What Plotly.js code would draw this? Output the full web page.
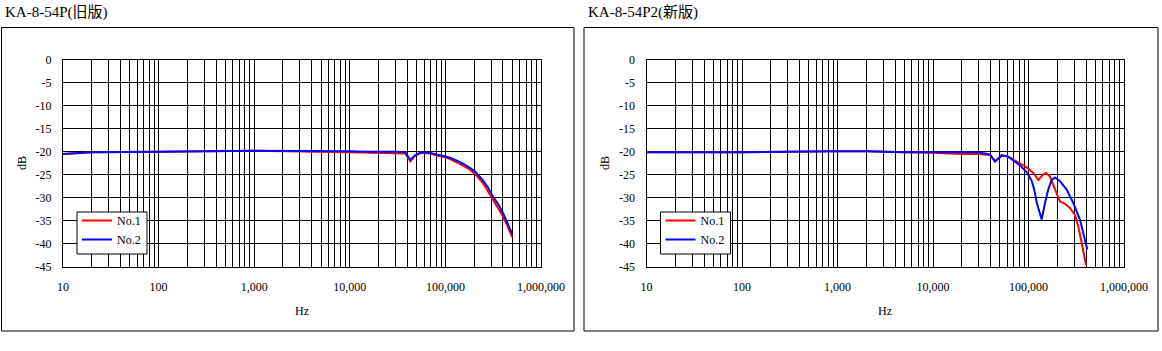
<!DOCTYPE html>
<html>
<head>
<meta charset="utf-8">
<script src="https://cdn.plot.ly/plotly-3.0.1.min.js"></script>
<style>html,body{margin:0;padding:0;background:#fff;}#chart{width:1162px;height:351px;}</style>
</head>
<body>
<div id="chart"></div>
<script>
// ---- Data ----
const titleLeft = 'KA-8-54P(旧版)';
const titleRight = 'KA-8-54P2(新版)';
const seriesNames = ['No.1', 'No.2'];

// Left panel: KA-8-54P (old)
const freqLeft = [10, 20, 100, 1000, 10000, 15000, 30000, 38000, 43000, 48000, 56000, 70000, 81000, 100000, 112000, 130000, 153000, 180000, 204000, 247000, 280000, 315000, 360000, 400000, 450000, 500000];
const no1Left  = [-20.5, -20.1, -20.0, -19.8, -20.1, -20.2, -20.3, -20.4, -22.1, -20.9, -20.2, -20.4, -20.8, -21.2, -21.6, -22.2, -23.0, -23.9, -24.8, -26.8, -28.6, -30.4, -32.2, -34.0, -36.3, -38.5];
const no2Left  = [-20.5, -20.1, -20.0, -19.8, -19.9, -20.0, -20.0, -20.1, -21.8, -20.8, -20.1, -20.3, -20.6, -21.0, -21.3, -21.9, -22.6, -23.5, -24.3, -26.2, -27.8, -29.7, -31.5, -33.3, -35.5, -37.8];

// Right panel: KA-8-54P2 (new)
const freqRight1 = [10, 20, 100, 1000, 2000, 5000, 10000, 20000, 29600, 39500, 44600, 52400, 60000, 66700, 81500, 95800, 112200, 126700, 140800, 152400, 167900, 189400, 213600, 241000, 272000, 306700, 332000, 360600, 400000];
const no1Right   = [-20.1, -20.1, -20.1, -19.9, -19.9, -20.1, -20.2, -20.5, -20.5, -20.7, -22.1, -20.8, -21.0, -21.5, -22.6, -23.4, -24.6, -26.1, -25.0, -24.6, -25.4, -28.2, -30.8, -31.3, -32.2, -33.7, -36.2, -39.8, -44.5];
const freqRight2 = [10, 20, 100, 1000, 2000, 5000, 10000, 20000, 29600, 39500, 44600, 52400, 60000, 66700, 75000, 81500, 95800, 108000, 115000, 122000, 130000, 137400, 149000, 161000, 175000, 189400, 213600, 251000, 294000, 346000, 381000, 413000];
const no2Right   = [-20.1, -20.1, -20.1, -19.9, -19.9, -20.1, -20.1, -20.0, -20.1, -20.6, -22.1, -20.8, -21.0, -21.6, -22.4, -23.0, -24.4, -26.3, -28.3, -31.0, -33.0, -34.7, -31.1, -28.2, -26.1, -25.6, -26.4, -28.2, -31.1, -34.7, -38.3, -41.2];

const yTickVals = [0, -5, -10, -15, -20, -25, -30, -35, -40, -45];
const xDecades = [10, 100, 1000, 10000, 100000, 1000000];
const xTitle = 'Hz';
const yTitle = 'dB';

// ---- Layout helpers ----
const W = 1162, H = 351;
const px = v => v / W;
const py = v => 1 - v / H;

const xGridVals = [];
const xGridText = [];
for (let d = 0; d < xDecades.length - 1; d++) {
  for (let m = 1; m <= 9; m++) {
    const v = xDecades[d] * m;
    xGridVals.push(v);
    xGridText.push(m === 1 ? v.toLocaleString('en-US') : '');
  }
}
xGridVals.push(xDecades[xDecades.length - 1]);
xGridText.push(xDecades[xDecades.length - 1].toLocaleString('en-US'));

const tickFont = {family: 'Liberation Serif, Times New Roman, serif', size: 12, color: '#000'};

function xAxis(x0, x1, anchor) {
  return {
    type: 'log', range: [1, 6], domain: [px(x0), px(x1)], anchor: anchor,
    tickmode: 'array', tickvals: xGridVals, ticktext: xGridText,
    showgrid: true, gridcolor: '#000', gridwidth: 1,
    showline: true, linecolor: '#000', linewidth: 1, mirror: true,
    ticks: '', ticklabelstandoff: 9, tickfont: tickFont, zeroline: false, fixedrange: true
  };
}
function yAxis(anchor) {
  return {
    range: [-45, 0], domain: [py(267), py(59.5)], anchor: anchor,
    tickmode: 'array', tickvals: yTickVals, ticktext: yTickVals.map(v => String(v)),
    showgrid: true, gridcolor: '#000', gridwidth: 1,
    showline: true, linecolor: '#000', linewidth: 1, mirror: true,
    ticks: '', ticklabelstandoff: 8, tickfont: tickFont, zeroline: false, fixedrange: true
  };
}

const red = '#ff0000', blue = '#0000ff';
const traces = [
  {x: freqLeft, y: no1Left, name: seriesNames[0], mode: 'lines', line: {color: red, width: 2}, xaxis: 'x', yaxis: 'y', legend: 'legend'},
  {x: freqLeft, y: no2Left, name: seriesNames[1], mode: 'lines', line: {color: blue, width: 2}, xaxis: 'x', yaxis: 'y', legend: 'legend'},
  {x: freqRight1, y: no1Right, name: seriesNames[0], mode: 'lines', line: {color: red, width: 2}, xaxis: 'x2', yaxis: 'y2', legend: 'legend2'},
  {x: freqRight2, y: no2Right, name: seriesNames[1], mode: 'lines', line: {color: blue, width: 2}, xaxis: 'x2', yaxis: 'y2', legend: 'legend2'}
];

const legendStyle = (x) => ({
  x: px(x), y: py(206), xanchor: 'left', yanchor: 'top',
  bgcolor: 'rgba(0,0,0,0)', borderwidth: 0,
  font: {family: 'Liberation Serif, Times New Roman, serif', size: 12, color: '#000'},
  itemwidth: 30, tracegroupgap: 0
});

const titleFont = {family: 'Liberation Serif, Noto Sans CJK JP, serif', size: 15, color: '#000'};
const labelFont = {family: 'Liberation Serif, Times New Roman, serif', size: 12, color: '#000'};

const layout = {
  width: W, height: H,
  margin: {l: 0, r: 0, t: 0, b: 0},
  paper_bgcolor: '#fff', plot_bgcolor: '#fff',
  showlegend: true,
  xaxis: xAxis(63, 541, 'y'),
  yaxis: yAxis('x'),
  xaxis2: xAxis(646.5, 1124, 'y2'),
  yaxis2: yAxis('x2'),
  legend: legendStyle(77),
  legend2: legendStyle(660.5),
  shapes: [
    {type: 'rect', xref: 'paper', yref: 'paper', x0: px(1.5), x1: px(574), y0: py(331), y1: py(27.5), line: {color: '#000', width: 1}, layer: 'below'},
    {type: 'rect', xref: 'paper', yref: 'paper', x0: px(584), x1: px(1158), y0: py(331), y1: py(27.5), line: {color: '#000', width: 1}, layer: 'below'},
    {type: 'rect', xref: 'paper', yref: 'paper', x0: px(77), x1: px(147), y0: py(254), y1: py(212), line: {color: '#000', width: 1}, fillcolor: '#fff', layer: 'above'},
    {type: 'rect', xref: 'paper', yref: 'paper', x0: px(660.5), x1: px(730.5), y0: py(254), y1: py(212), line: {color: '#000', width: 1}, fillcolor: '#fff', layer: 'above'}
  ],
  annotations: [
    {text: titleLeft, xref: 'paper', yref: 'paper', x: px(3), y: py(13), xanchor: 'left', yanchor: 'middle', showarrow: false, font: titleFont},
    {text: titleRight, xref: 'paper', yref: 'paper', x: px(586), y: py(13), xanchor: 'left', yanchor: 'middle', showarrow: false, font: titleFont},
    {text: xTitle, xref: 'paper', yref: 'paper', x: px(302), y: py(311), xanchor: 'center', yanchor: 'middle', showarrow: false, font: labelFont},
    {text: xTitle, xref: 'paper', yref: 'paper', x: px(885), y: py(311), xanchor: 'center', yanchor: 'middle', showarrow: false, font: labelFont},
    {text: yTitle, xref: 'paper', yref: 'paper', x: px(22), y: py(163), xanchor: 'center', yanchor: 'middle', textangle: -90, showarrow: false, font: labelFont},
    {text: yTitle, xref: 'paper', yref: 'paper', x: px(605), y: py(163), xanchor: 'center', yanchor: 'middle', textangle: -90, showarrow: false, font: labelFont}
  ]
};

Plotly.newPlot('chart', traces, layout, {staticPlot: true, displayModeBar: false});
</script>
</body>
</html>
